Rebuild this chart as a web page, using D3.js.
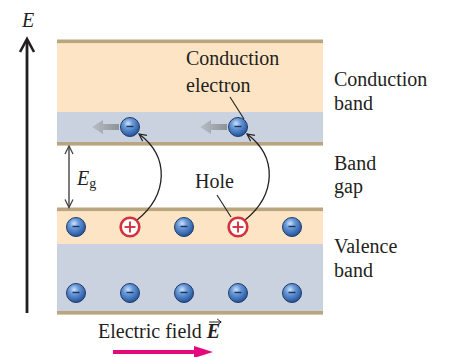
<!DOCTYPE html>
<html><head><meta charset="utf-8">
<script src="https://cdn.jsdelivr.net/npm/d3@7"></script>
<style>body{margin:0;background:#fff}svg{display:block}text{font-family:"Liberation Serif","Times New Roman",serif;fill:#231f20}</style>
</head><body><div id="c"></div>
<script>
// ---- data ----
const slots = [0, 1, 2, 3, 4];                       // horizontal positions
const bandNames = ["Conduction band", "Band gap", "Valence band"];
// energy levels (arbitrary units)
const bandEdges = { valBottom: 0, valFilled: 69, valTop: 103.5, condBottom: 169, condFilled: 201, condTop: 271.5 };
const valenceTopRow = ["e", "h", "e", "h", "e"];     // e = electron, h = hole
const valenceBottomRow = ["e", "e", "e", "e", "e"];
const conductionElectrons = [1, 3];                  // slots of excited electrons
const rowEnergy = { valBottomRow: 20, valTopRow: 86, condRow: 186 };

const W = 449, H = 357;
const svg = d3.select("#c").append("svg").attr("width", W).attr("height", H);
const y = d3.scaleLinear().domain([0, 272]).range([313, 41]);
const x = d3.scaleLinear().domain([0, 4]).range([76, 292]);
const left = 57, right = 323;

const defs = svg.append("defs");
const rg = defs.append("radialGradient").attr("id", "ball").attr("cx", "40%").attr("cy", "32%").attr("r", "70%");
rg.append("stop").attr("offset", "0%").attr("stop-color", "#cfe2f8");
rg.append("stop").attr("offset", "35%").attr("stop-color", "#6b9ad8");
rg.append("stop").attr("offset", "100%").attr("stop-color", "#1f4f98");
const lg = defs.append("linearGradient").attr("id", "garrow").attr("x1", "0").attr("x2", "1");
lg.append("stop").attr("offset", "0%").attr("stop-color", "#b9bec6");
lg.append("stop").attr("offset", "100%").attr("stop-color", "#8d9299");
defs.append("marker").attr("id", "vhead").attr("viewBox", "0 0 10 10").attr("refX", 9).attr("refY", 5)
  .attr("markerWidth", 9).attr("markerHeight", 9).attr("markerUnits", "userSpaceOnUse").attr("orient", "auto-start-reverse")
  .append("path").attr("d", "M1,1 L9,5 L1,9").attr("fill", "none").attr("stroke", "#231f20").attr("stroke-width", 1.3);
defs.append("marker").attr("id", "ghead").attr("viewBox", "0 0 10 10").attr("refX", 9).attr("refY", 5)
  .attr("markerWidth", 10).attr("markerHeight", 10).attr("markerUnits", "userSpaceOnUse").attr("orient", "auto-start-reverse")
  .append("path").attr("d", "M1,1 L9,5 L1,9").attr("fill", "none").attr("stroke", "#444").attr("stroke-width", 1.3);

// ---- bands ----
const peach = "#fde4c4", blue = "#cbd2df", tan = "#b9a680";
const rects = [
  [bandEdges.condFilled, bandEdges.condTop, peach],
  [bandEdges.condBottom, bandEdges.condFilled, blue],
  [bandEdges.valFilled, bandEdges.valTop, peach],
  [bandEdges.valBottom, bandEdges.valFilled, blue]
];
svg.selectAll("rect.band").data(rects).join("rect").attr("class", "band")
  .attr("x", left).attr("width", right - left)
  .attr("y", d => y(d[1])).attr("height", d => y(d[0]) - y(d[1])).attr("fill", d => d[2]);
const lines = [bandEdges.condTop, bandEdges.condBottom, bandEdges.valTop, bandEdges.valBottom];
svg.selectAll("rect.edge").data(lines).join("rect").attr("class", "edge")
  .attr("x", left).attr("width", right - left).attr("y", d => y(d) - 2).attr("height", 3.6).attr("fill", tan);

// ---- energy axis ----
svg.append("line").attr("x1", 27).attr("x2", 27).attr("y1", 313).attr("y2", 40)
  .attr("stroke", "#231f20").attr("stroke-width", 2.8);
svg.append("path").attr("d", "M20,52 L27,39 L34,52").attr("fill", "none").attr("stroke", "#231f20").attr("stroke-width", 2.6);
svg.append("text").attr("x", 28).attr("y", 27).attr("text-anchor", "middle").attr("font-size", 20).attr("font-style", "italic").text("E");

// ---- band gap arrow ----
svg.append("line").attr("x1", 69).attr("x2", 69).attr("y1", y(bandEdges.condBottom) + 2).attr("y2", y(bandEdges.valTop) - 2)
  .attr("stroke", "#444").attr("stroke-width", 1.4).attr("marker-end", "url(#ghead)").attr("marker-start", "url(#ghead)");
const eg = svg.append("text").attr("x", 77).attr("y", 185).attr("font-size", 20);
eg.append("tspan").attr("font-style", "italic").text("E");
eg.append("tspan").attr("font-size", 14).attr("dy", 3).text("g");

// ---- curved excitation arrows ----
conductionElectrons.forEach(s => {
  const cx = x(s), yh = y(rowEnergy.valTopRow), ye = y(rowEnergy.condRow);
  svg.append("path")
    .attr("d", `M${cx + 7},${yh - 7} C${cx + 38},${yh - 32} ${cx + 40},${ye + 30} ${cx + 9},${ye + 7}`)
    .attr("fill", "none").attr("stroke", "#231f20").attr("stroke-width", 1.3).attr("marker-end", "url(#vhead)");
});

// ---- gray drift arrows ----
conductionElectrons.forEach(s => {
  const cx = x(s), cy = y(rowEnergy.condRow);
  const x0 = cx - 38, x1 = cx - 11;
  svg.append("path")
    .attr("d", `M${x0},${cy} L${x0 + 11},${cy - 7} L${x0 + 11},${cy - 3} L${x1},${cy - 3} L${x1},${cy + 3} L${x0 + 11},${cy + 3} L${x0 + 11},${cy + 7} Z`)
    .attr("fill", "url(#garrow)");
});

// ---- particles ----
function electron(cx, cy) {
  const g = svg.append("g").attr("transform", `translate(${cx},${cy})`);
  g.append("circle").attr("r", 9.5).attr("fill", "url(#ball)").attr("stroke", "#1d3c6b").attr("stroke-width", 1);
  g.append("line").attr("x1", -3.5).attr("x2", 3.5).attr("y1", -0.5).attr("y2", -0.5).attr("stroke", "#173563").attr("stroke-width", 1.4);
}
function hole(cx, cy) {
  const g = svg.append("g").attr("transform", `translate(${cx},${cy})`);
  g.append("circle").attr("r", 9.3).attr("fill", "#fff").attr("stroke", "#d4333c").attr("stroke-width", 2.6);
  g.append("line").attr("x1", -5.5).attr("x2", 5.5).attr("stroke", "#d4333c").attr("stroke-width", 1.9);
  g.append("line").attr("y1", -5.5).attr("y2", 5.5).attr("stroke", "#d4333c").attr("stroke-width", 1.9);
}
valenceTopRow.forEach((t, i) => t === "e" ? electron(x(slots[i]), y(rowEnergy.valTopRow)) : hole(x(slots[i]), y(rowEnergy.valTopRow)));
valenceBottomRow.forEach((t, i) => electron(x(slots[i]), y(rowEnergy.valBottomRow)));
conductionElectrons.forEach(s => electron(x(s), y(rowEnergy.condRow)));

// ---- labels ----
const lab = (tx, ty, str) => svg.append("text").attr("x", tx).attr("y", ty).attr("font-size", 20).text(str);
lab(186, 65, "Conduction");
lab(186, 92, "electron");
svg.append("line").attr("x1", 230).attr("y1", 97).attr("x2", 244).attr("y2", 119).attr("stroke", "#231f20").attr("stroke-width", 1.1);
lab(195, 188, "Hole");
svg.append("line").attr("x1", 217).attr("y1", 195).attr("x2", 231).attr("y2", 217).attr("stroke", "#231f20").attr("stroke-width", 1.1);

const [cb, bg, vb] = bandNames.map(n => n.split(" "));
lab(334, 86, cb[0]); lab(334, 110, cb[1]);
lab(334, 170, bg[0]); lab(334, 193, bg[1]);
lab(334, 253, vb[0]); lab(334, 277, vb[1]);

// ---- electric field ----
const ef = svg.append("text").attr("x", 98).attr("y", 338).attr("font-size", 20);
ef.append("tspan").text("Electric field ");
const vecE = ef.append("tspan").attr("font-weight", "bold").attr("font-style", "italic").text("E");
const eb = vecE.node().getBBox ? ef.node().getBBox() : { x: 212, width: 14 };
const ex1 = eb.x + eb.width, ex0 = ex1 - 12;
svg.append("path").attr("d", `M${ex0 + 1},322 L${ex1 + 1},322 M${ex1 - 3},319 L${ex1 + 1},322 L${ex1 - 3},325`)
  .attr("fill", "none").attr("stroke", "#231f20").attr("stroke-width", 1);
svg.append("path").attr("d", "M113,350 L194,350 L194,346 L213,352 L194,358 L194,354 L113,354 Z").attr("fill", "#e5097f");
</script></body></html>
